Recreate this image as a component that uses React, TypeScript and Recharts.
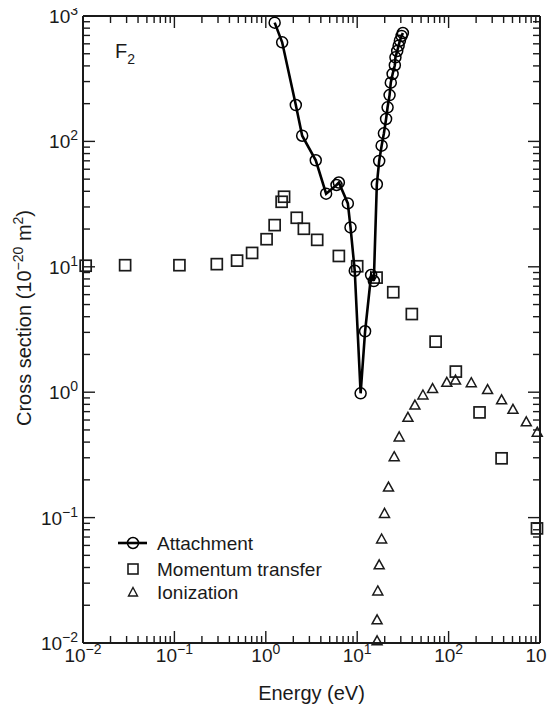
import React from "react";
import { ScatterChart, Scatter, XAxis, YAxis, ReferenceLine } from "recharts";

// energies (eV) and cross sections (1e-20 m^2)
const attachEnergy = [1.25, 1.51, 2.13, 2.5, 3.52, 4.57, 5.94, 6.3, 7.9, 8.45, 9.4, 10.9, 12.2, 14.2, 15.2, 16.4, 17.4, 18.5, 19.6, 20.7, 21.5, 22.6, 23.3, 24.4, 25.8, 26.2, 27.4, 28.4, 29.3, 30.6, 31.6];
const attachValue = [885, 617, 195, 111, 70.7, 38.3, 44.9, 47, 32, 20.6, 9.3, 0.98, 3.06, 8.6, 7.7, 45.5, 69.8, 92.4, 116, 151, 187, 234, 294, 345, 405, 468, 526, 580, 635, 693, 732];

const momentumEnergy = [0.0107, 0.0289, 0.1135, 0.291, 0.485, 0.708, 1.02, 1.25, 1.49, 1.585, 2.18, 2.61, 3.65, 6.3, 10.0, 16.3, 24.8, 39.6, 72.1, 120, 218, 380, 927];
const momentumValue = [10.2, 10.3, 10.3, 10.5, 11.2, 12.9, 16.6, 21.5, 33, 36.2, 24.6, 20.1, 16.4, 12.2, 10.1, 8.2, 6.27, 4.2, 2.53, 1.46, 0.69, 0.297, 0.082];

const ionEnergy = [16.5, 16.5, 16.8, 17.4, 18.5, 19.9, 22.0, 25.4, 28.8, 35.9, 42.8, 52.4, 66.8, 95.6, 119, 177, 267, 380, 506, 708, 933];
const ionValue = [0.0104, 0.0153, 0.026, 0.042, 0.0675, 0.108, 0.175, 0.306, 0.44, 0.63, 0.79, 0.95, 1.07, 1.2, 1.25, 1.19, 1.05, 0.87, 0.73, 0.58, 0.48];

const decades = [-2, -1, 0, 1, 2, 3];
const mantissas = [1, 2, 3, 4, 5, 6, 7, 8, 9];

const legendLabels = ["Attachment", "Momentum transfer", "Ionization"];

const toPoints = (xs: number[], ys: number[]) => xs.map((x, i) => ({ x, y: ys[i] }));
const attachData = toPoints(attachEnergy, attachValue);
const momentumData = toPoints(momentumEnergy, momentumValue);
const ionData = toPoints(ionEnergy, ionValue);

const logTicks = decades.flatMap((d) =>
  d < 3 ? mantissas.map((m) => m * Math.pow(10, d)) : [Math.pow(10, d)]
);

const W = 547;
const H = 701;
const M = { top: 8, right: 15, left: 0, bottom: 0 };
const Y_W = 75;
const X_H = 66;
const PW = W - M.right - Y_W;
const PH = H - X_H - M.top;

const FONT = "'Liberation Sans', Arial, Helvetica, sans-serif";
const INK = "#1a1a1a";

const expOf = (v: number) => Math.round(Math.log10(v));
const isDecade = (v: number) => Math.abs(Math.log10(v) - expOf(v)) < 1e-6;
const expText = (v: number) => {
  const e = expOf(v);
  return e < 0 ? `\u2212${-e}` : `${e}`;
};

const XTick = (props: any) => {
  const { x, y, payload } = props;
  const v = payload.value;
  const major = isDecade(v);
  const len = major ? 12 : 7;
  return (
    <g>
      <line x1={x} y1={y} x2={x} y2={y - len} stroke={INK} strokeWidth={1.4} />
      <line x1={x} y1={y - PH} x2={x} y2={y - PH + len} stroke={INK} strokeWidth={1.4} />
      {major && (
        <text x={x} y={y + 19} textAnchor="middle" fontSize={19} fill={INK} fontFamily={FONT}>
          <tspan>10</tspan>
          <tspan dy={-8} fontSize={14}>{expText(v)}</tspan>
        </text>
      )}
    </g>
  );
};

const YTick = (props: any) => {
  const { x, y, payload } = props;
  const v = payload.value;
  const major = isDecade(v);
  const len = major ? 12 : 7;
  return (
    <g>
      <line x1={x} y1={y} x2={x + len} y2={y} stroke={INK} strokeWidth={1.4} />
      <line x1={x + PW} y1={y} x2={x + PW - len} y2={y} stroke={INK} strokeWidth={1.4} />
      {major && (
        <text x={x - 5} y={y + 7} textAnchor="end" fontSize={19} fill={INK} fontFamily={FONT}>
          <tspan>10</tspan>
          <tspan dy={-8} fontSize={14}>{expText(v)}</tspan>
        </text>
      )}
    </g>
  );
};

const CircleMark = (p: any) => (
  <circle cx={p.cx} cy={p.cy} r={5.5} fill="none" stroke="#000" strokeWidth={1.5} />
);
const SquareMark = (p: any) => (
  <rect x={p.cx - 5.5} y={p.cy - 5.5} width={11} height={11} fill="none" stroke={INK} strokeWidth={1.7} />
);
const TriangleMark = (p: any) => (
  <path
    d={`M${p.cx},${p.cy - 5} L${p.cx + 5},${p.cy + 4} L${p.cx - 5},${p.cy + 4} Z`}
    fill="none"
    stroke={INK}
    strokeWidth={1.5}
  />
);

export default function App() {
  return (
    <div style={{ position: "relative", width: W, height: H }}>
      <style>{"svg.recharts-surface { overflow: visible; }"}</style>
      <ScatterChart width={W} height={H} margin={M}>
        <XAxis
          dataKey="x"
          type="number"
          scale="log"
          domain={[0.01, 1000]}
          ticks={logTicks}
          interval={0}
          tickSize={0}
          tickMargin={0}
          tickLine={false}
          tick={<XTick />}
          height={X_H}
          axisLine={{ stroke: INK, strokeWidth: 2 }}
        />
        <YAxis
          dataKey="y"
          type="number"
          scale="log"
          domain={[0.01, 1000]}
          ticks={logTicks}
          interval={0}
          tickSize={0}
          tickMargin={0}
          tickLine={false}
          tick={<YTick />}
          width={Y_W}
          axisLine={{ stroke: INK, strokeWidth: 2 }}
        />
        <ReferenceLine y={1000} stroke={INK} strokeWidth={2} />
        <ReferenceLine x={1000} stroke={INK} strokeWidth={2} />
        <Scatter data={momentumData} shape={SquareMark} isAnimationActive={false} />
        <Scatter data={ionData} shape={TriangleMark} isAnimationActive={false} />
        <Scatter
          data={attachData}
          shape={CircleMark}
          line={{ stroke: "#000", strokeWidth: 2.6 }}
          lineType="joint"
          isAnimationActive={false}
        />
      </ScatterChart>
      <svg
        width={W}
        height={H}
        style={{ position: "absolute", left: 0, top: 0, pointerEvents: "none", overflow: "visible" }}
        fontFamily={FONT}
        fill={INK}
      >
        <text x={107} y={50} fontSize={20}>
          <tspan>F</tspan>
          <tspan dy={6} fontSize={14}>2</tspan>
        </text>

        <line x1={110} y1={535} x2={139} y2={535} stroke="#000" strokeWidth={2.6} />
        <circle cx={125} cy={535} r={5.5} fill="none" stroke="#000" strokeWidth={1.5} />
        <rect x={120} y={556} width={10} height={10} fill="none" stroke={INK} strokeWidth={1.6} />
        <path d="M125,579.5 L129.5,588 L120.5,588 Z" fill="none" stroke={INK} strokeWidth={1.4} />
        {legendLabels.map((t, i) => (
          <text key={t} x={149} y={[542, 568, 591][i]} fontSize={19}>
            {t}
          </text>
        ))}

        <text x={303.5} y={692} fontSize={20} textAnchor="middle">
          Energy (eV)
        </text>
        <text transform="translate(23,310) rotate(-90)" fontSize={20} textAnchor="middle">
          <tspan>Cross section (10</tspan>
          <tspan dy={-8} fontSize={14}>{"\u221220"}</tspan>
          <tspan dy={8}> m</tspan>
          <tspan dy={-8} fontSize={14}>2</tspan>
          <tspan dy={8}>)</tspan>
        </text>
      </svg>
    </div>
  );
}
